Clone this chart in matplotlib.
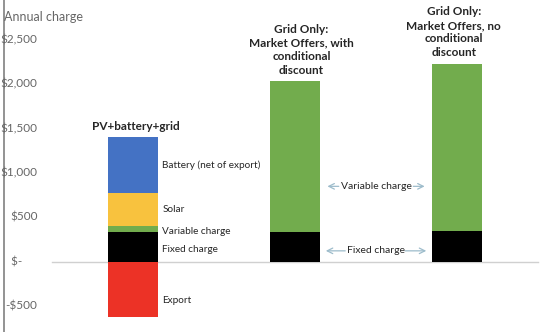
import matplotlib.pyplot as plt
from matplotlib import rcParams

rcParams['font.family'] = ['Lato', 'DejaVu Sans']

# Annual charge components ($) for each supply option
scenarios = ['PV+battery+grid',
             'Grid Only:\nMarket Offers, with\nconditional\ndiscount',
             'Grid Only:\nMarket Offers, no\nconditional\ndiscount']
fixed_charge = [340, 340, 350]
variable_charge = [65, 1690, 1880]
solar = [370, 0, 0]
battery = [625, 0, 0]
export = [-620, 0, 0]

tick_values = [-500, 0, 500, 1000, 1500, 2000, 2500]
tick_labels = ['-$500', '$-     ', '$500', '$1,000', '$1,500', '$2,000', '$2,500']

blue = '#4472C4'
gold = '#F8C23E'
green = '#72AC4D'
red = '#EC3226'
grey_txt = '#666666'

fig = plt.figure(figsize=(5.52, 3.32), dpi=100)
ax = fig.add_axes([4 / 552, 0, 548 / 552, 1])

x = list(range(len(scenarios)))
w = 0.31

# stacked bars
ax.bar(x, fixed_charge, w, color='black', zorder=3)
bottom = fixed_charge[:]
ax.bar(x, variable_charge, w, bottom=bottom, color=green, zorder=3)
bottom = [b + v for b, v in zip(bottom, variable_charge)]
ax.bar(x, solar, w, bottom=bottom, color=gold, zorder=3)
bottom = [b + v for b, v in zip(bottom, solar)]
ax.bar(x, battery, w, bottom=bottom, color=blue, zorder=3)
bottom = [b + v for b, v in zip(bottom, battery)]
ax.bar(x, export, w, color=red, zorder=3)

# zero line
ax.axhline(0, xmin=0.088, xmax=0.974, color='#d0d0d0', lw=1, zorder=1)

ax.set_xlim(-0.796, 2.586)
ax.set_ylim(-787, 2944)

for s in ['top', 'right', 'bottom']:
    ax.spines[s].set_visible(False)
ax.spines['left'].set_color('#808080')
ax.spines['left'].set_linewidth(1.2)
ax.set_xticks([])
ax.set_yticks(tick_values)
ax.set_yticklabels([])
ax.tick_params(axis='y', length=0)

# tick labels sit just inside the axis line
for v, lab in zip(tick_values, tick_labels):
    ax.text(0.061, v, lab, transform=ax.get_yaxis_transform(), ha='right',
            va='center', fontsize=8.5, color=grey_txt)

ax.text(0.0, 2750, 'Annual charge', transform=ax.get_yaxis_transform(),
        ha='left', va='center', fontsize=9, color=grey_txt)

# bar titles
title_dx = [0.02, 0.04, -0.02]
for i, t in enumerate(scenarios):
    ax.annotate(t, xy=(i + title_dx[i], bottom[i]), xytext=(0, 4),
                textcoords='offset points', ha='center', va='bottom',
                fontsize=8.5, fontweight='bold', color='#262626',
                linespacing=1.28)

# labels beside the first bar's segments
seg_names = ['Fixed charge', 'Variable charge', 'Solar', 'Battery (net of export)']
seg_lo = [0, fixed_charge[0], fixed_charge[0] + variable_charge[0],
          fixed_charge[0] + variable_charge[0] + solar[0]]
seg_hi = [fixed_charge[0], fixed_charge[0] + variable_charge[0],
          fixed_charge[0] + variable_charge[0] + solar[0], bottom[0]]
seg_dy = [-25, -35, 0, 0]
for name, lo, hi, dy in zip(seg_names, seg_lo, seg_hi, seg_dy):
    ax.text(w / 2 + 0.025, (lo + hi) / 2 + dy, name, ha='left', va='center',
            fontsize=7.2, color='#262626')
ax.text(w / 2 + 0.025, export[0] / 2 - 120, 'Export', ha='left', va='center',
        fontsize=7.2, color='#262626')

# labels between the grid-only bars
arrow_c = '#9dbccb'
mid_labels = ['Variable charge', 'Fixed charge']
mid_y = [850, 125]
for lab, yy in zip(mid_labels, mid_y):
    ax.text(1.5, yy, lab, ha='center', va='center', fontsize=7.5,
            color='#262626')
arrow_spans = [((1.20, 850), (1.27, 850)), ((1.80, 850), (1.73, 850)),
               ((1.19, 125), (1.31, 125)), ((1.81, 125), (1.68, 125))]
for tip, tail in arrow_spans:
    ax.annotate('', xy=tip, xytext=tail,
                arrowprops=dict(arrowstyle='->', color=arrow_c, lw=0.9,
                                shrinkA=0, shrinkB=0))

fig.savefig('out.png', dpi=100)
